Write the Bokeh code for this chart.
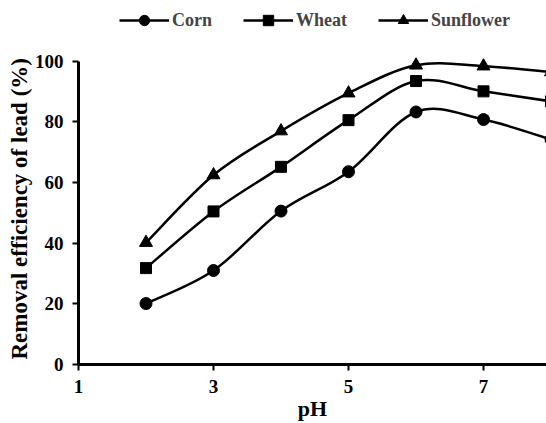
from bokeh.plotting import figure
from bokeh.models import Range1d, FixedTicker, Legend, LegendItem, Title
from bokeh.embed import file_html
from bokeh.resources import INLINE

# ---- data ----
ph = [2, 3, 4, 5, 6, 7, 8]
corn = [20.1, 31.0, 50.6, 63.6, 83.3, 80.8, 74.2]
wheat = [31.8, 50.5, 65.2, 80.6, 93.5, 90.1, 86.8]
sunflower = [40.2, 62.5, 77.0, 89.5, 98.7, 98.4, 96.5]
x_ticks = [1, 3, 5, 7]
y_ticks = [0, 20, 40, 60, 80, 100]

FONT = "Liberation Serif"

p = figure(width=546, height=423, output_backend="svg", toolbar_location=None,
           x_range=Range1d(1, 7.933), y_range=Range1d(0, 120.07),
           min_border_left=78, min_border_right=0, min_border_top=0,
           min_border_bottom=58)
p.outline_line_color = None
p.grid.visible = False
p.background_fill_color = "white"
p.border_fill_color = "white"


def smooth_controls(xs, ys):
    n = len(xs)
    x0, y0, x1, y1, cx0, cy0, cx1, cy1 = ([] for _ in range(8))
    for i in range(n - 1):
        pi = i - 1 if i > 0 else i
        ni = i + 2 if i + 2 < n else i + 1
        x0.append(xs[i]); y0.append(ys[i])
        x1.append(xs[i + 1]); y1.append(ys[i + 1])
        cx0.append(xs[i] + (xs[i + 1] - xs[pi]) / 6.0)
        cy0.append(ys[i] + (ys[i + 1] - ys[pi]) / 6.0)
        cx1.append(xs[i + 1] - (xs[ni] - xs[i]) / 6.0)
        cy1.append(ys[i + 1] - (ys[ni] - ys[i]) / 6.0)
    return dict(x0=x0, y0=y0, x1=x1, y1=y1, cx0=cx0, cy0=cy0, cx1=cx1, cy1=cy1)


items = []
for name, vals, marker, size in [("Corn", corn, "circle", 12),
                                 ("Wheat", wheat, "square", 11),
                                 ("Sunflower", sunflower, "triangle", 13)]:
    c = smooth_controls(ph, vals)
    r1 = p.bezier(line_color="black", line_width=2.5, **c)
    r2 = p.scatter(ph, vals, marker=marker, size=size, fill_color="black",
                   line_color="black")
    items.append(LegendItem(label=name, renderers=[r1, r2]))

legend = Legend(items=items, orientation="horizontal", location=(41, 331),
                margin=0, padding=0, spacing=31, glyph_width=50, glyph_height=26,
                label_height=26, label_standoff=3,
                label_text_font=FONT, label_text_font_style="bold",
                label_text_font_size="18px",
                background_fill_alpha=0, border_line_color=None)
p.add_layout(legend)

# axes
for ax in (p.xaxis[0], p.yaxis[0]):
    ax.axis_line_width = 3
    ax.axis_line_color = "black"
    ax.major_tick_line_width = 2
    ax.major_tick_line_color = "black"
    ax.major_tick_in = 0
    ax.major_tick_out = 6
    ax.minor_tick_line_color = None
    ax.major_label_text_font = FONT
    ax.major_label_text_font_style = "bold"
    ax.major_label_text_font_size = "19px"
    ax.major_label_text_color = "black"
    ax.axis_label_text_font = FONT
    ax.axis_label_text_font_style = "bold"
    ax.axis_label_text_font_size = "22px"
    ax.axis_label_text_color = "black"

p.xaxis.ticker = FixedTicker(ticks=x_ticks)
p.yaxis.ticker = FixedTicker(ticks=y_ticks)
p.xaxis.bounds = (1, 8)
p.yaxis.bounds = (0, 100)
p.xaxis.axis_label = "pH"
p.xaxis.major_label_standoff = 9
p.yaxis.major_label_standoff = 9
p.xaxis.axis_label_standoff = 0

ytitle = Title(text="Removal efficiency of lead (%)", align="left", offset=5,
               text_font=FONT, text_font_style="bold", text_font_size="23px",
               text_color="black", standoff=0)
p.add_layout(ytitle, "left")

open("out.html", "w").write(file_html(p, INLINE))
